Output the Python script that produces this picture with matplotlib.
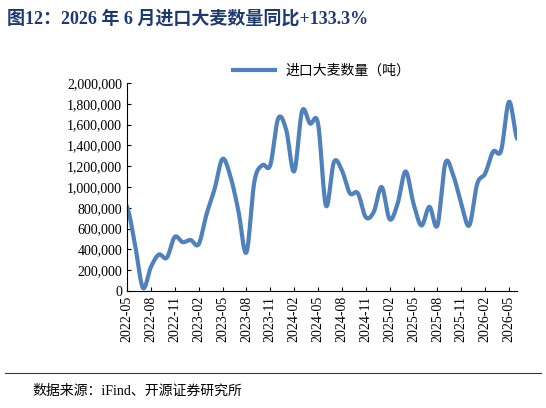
import numpy as np
import matplotlib.pyplot as plt
from matplotlib.ticker import FuncFormatter

plt.rcParams['font.family'] = ['Liberation Serif', 'Noto Sans CJK SC']

start_year, start_month = 2022, 5
values = [0.81, 0.45, 0.03, 0.23, 0.35, 0.32, 0.52, 0.47, 0.49, 0.45,
          0.74, 0.98, 1.27, 1.10, 0.77, 0.37, 1.05, 1.21, 1.21, 1.66,
          1.55, 1.15, 1.73, 1.61, 1.61, 0.82, 1.24, 1.16, 0.94, 0.94,
          0.71, 0.76, 1.00, 0.69, 0.84, 1.15, 0.84, 0.63, 0.81, 0.63,
          1.23, 1.11, 0.84, 0.63, 1.03, 1.13, 1.34, 1.35, 1.82, 1.47]
values = np.array(values) * 1e6
labels = []
for i in range(len(values)):
    m = start_month - 1 + i
    labels.append(f"{start_year + m // 12}-{m % 12 + 1:02d}")

# smooth drawing (Catmull-Rom through data points)
x = np.arange(len(values))
p = np.concatenate([[values[0]], values, [values[-1]]])
xs, ys = [], []
for i in range(len(values) - 1):
    p0, p1, p2, p3 = p[i], p[i + 1], p[i + 2], p[i + 3]
    t = np.linspace(0, 1, 12, endpoint=False)
    y = 0.5 * (2 * p1 + (-p0 + p2) * t + (2 * p0 - 5 * p1 + 4 * p2 - p3) * t**2
               + (-p0 + 3 * p1 - 3 * p2 + p3) * t**3)
    xs.append(i + t)
    ys.append(y)
xs = np.concatenate(xs + [[x[-1]]])
ys = np.concatenate(ys + [[values[-1]]])

fig = plt.figure(figsize=(5.46, 4.08), dpi=100)
ax = fig.add_axes([127 / 546, 1 - 291 / 408, 390 / 546, 208 / 408])
ax.plot(xs, ys, color='#4F81BD', lw=3, label='进口大麦数量（吨）')
ax.set_xlim(0, len(values) - 1)
ax.set_ylim(0, 2e6)
ax.set_yticks(np.arange(0, 2.01e6, 2e5))
ax.yaxis.set_major_formatter(FuncFormatter(lambda v, _: f"{int(v):,}"))
ticks = list(range(0, len(values), 3))
ax.set_xticks(ticks)
ax.set_xticklabels([labels[i] for i in ticks], rotation=90, fontsize=10)
ax.tick_params(axis='y', direction='in', labelsize=10, length=3)
ax.tick_params(axis='x', direction='in', length=3)
for s in ['top', 'right']:
    ax.spines[s].set_visible(False)
ax.legend(loc='upper center', bbox_to_anchor=(0.5, 1.15), frameon=False,
          fontsize=10, handlelength=3)

fig.text(0.012, 0.955, '图12：2026 年 6 月进口大麦数量同比+133.3%', fontsize=13,
         fontweight='bold', color='#1F3A70', va='center')
fig.add_artist(plt.Line2D([0.01, 0.99], [0.085, 0.085], color='#1F3A70', lw=0.8))
fig.text(0.06, 0.042, '数据来源：iFind、开源证券研究所', fontsize=10, va='center')
fig.savefig('out.png', dpi=100)
